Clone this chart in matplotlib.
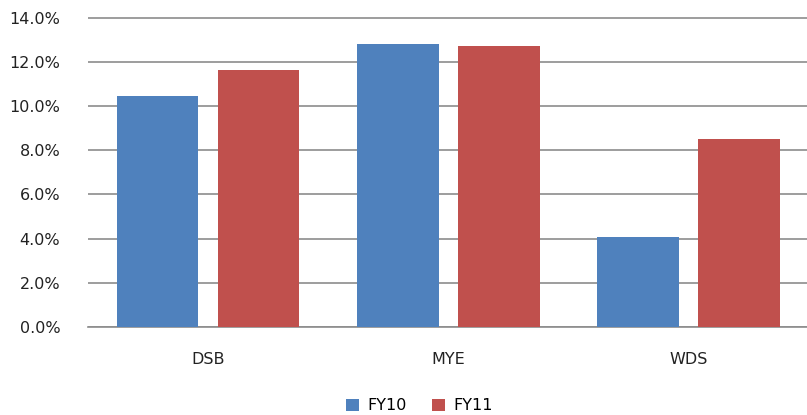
import numpy as np
import matplotlib.pyplot as plt
from matplotlib.ticker import FuncFormatter

categories = ["DSB", "MYE", "WDS"]
fy10 = [10.45, 12.8, 4.07]
fy11 = [11.65, 12.72, 8.5]

fig = plt.figure(figsize=(8.07, 4.15), dpi=100)
ax = fig.add_axes([0.109, 0.212, 0.893, 0.747])

x = np.arange(len(categories))
w = 0.34
ax.bar(x - 0.21, fy10, w, color="#4F81BD", label="FY10", zorder=3)
ax.bar(x + 0.21, fy11, w, color="#C0504D", label="FY11", zorder=3)

ax.set_xlim(-0.5, 2.5)
ax.set_ylim(0, 14.03)
ax.set_yticks(np.arange(0, 15, 2))
ax.yaxis.set_major_formatter(FuncFormatter(lambda v, p: f"{v:.1f}%"))
ax.set_xticks(x)
ax.set_xticklabels(categories)
ax.grid(axis="y", color="#8c8c8c", linewidth=1.2, zorder=0)
for s in ["top", "right", "left"]:
    ax.spines[s].set_visible(False)
ax.spines["bottom"].set_color("#8c8c8c")
ax.spines["bottom"].set_linewidth(1.2)
ax.tick_params(length=0, labelsize=11.5, colors="#222222")
ax.tick_params(axis="x", pad=18)
ax.tick_params(axis="y", pad=20)

ax.legend(loc="lower center", bbox_to_anchor=(0.46, -0.325), ncol=2, frameon=False,
          fontsize=11.5, handlelength=0.8, handleheight=0.8, columnspacing=1.6, handletextpad=0.5)

fig.savefig("out.png", dpi=100)
